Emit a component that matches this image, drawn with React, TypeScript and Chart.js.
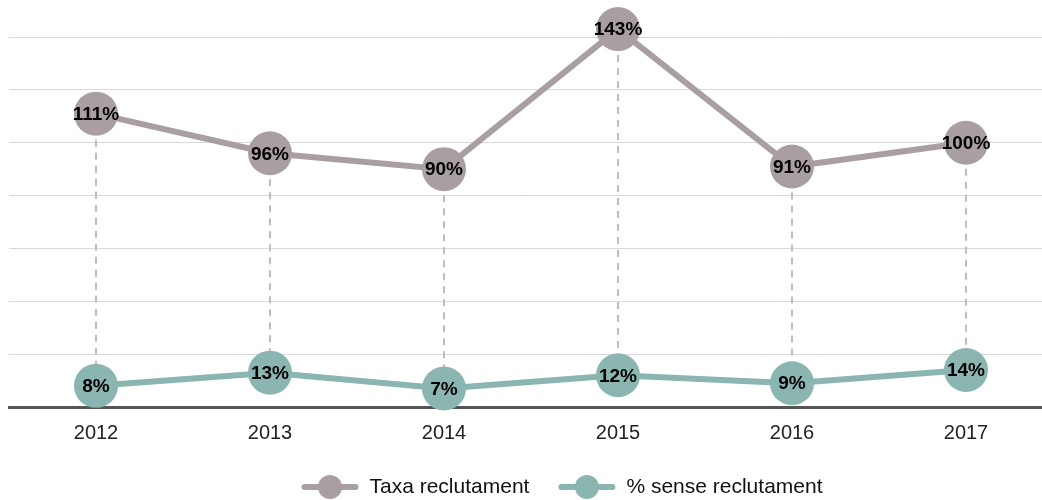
import React, { useEffect, useRef } from "react";
import { Chart, registerables } from "chart.js";

Chart.register(...registerables);

const years = ["2012", "2013", "2014", "2015", "2016", "2017"];
const taxaReclutament = [111, 96, 90, 143, 91, 100];
const senseReclutament = [8, 13, 7, 12, 9, 14];
const seriesLabels = ["Taxa reclutament", "% sense reclutament"];
const seriesColors = ["#a99fa3", "#8bb5b0"];

const FONT = "'Liberation Sans', Arial, Helvetica, sans-serif";

const dropLines = {
  id: "dropLines",
  beforeDatasetsDraw(chart: any) {
    const a = chart.getDatasetMeta(0).data;
    const b = chart.getDatasetMeta(1).data;
    const ctx = chart.ctx;
    ctx.save();
    ctx.strokeStyle = "#bdbdbd";
    ctx.lineWidth = 2;
    ctx.setLineDash([7, 6]);
    for (let i = 0; i < a.length; i++) {
      ctx.beginPath();
      ctx.moveTo(a[i].x, a[i].y);
      ctx.lineTo(b[i].x, b[i].y);
      ctx.stroke();
    }
    ctx.restore();
  },
};

const valueLabels = {
  id: "valueLabels",
  afterDatasetsDraw(chart: any) {
    const ctx = chart.ctx;
    ctx.save();
    ctx.font = `bold 19px ${FONT}`;
    ctx.fillStyle = "#000";
    ctx.textAlign = "center";
    ctx.textBaseline = "middle";
    chart.data.datasets.forEach((ds: any, di: number) => {
      const meta = chart.getDatasetMeta(di);
      meta.data.forEach((el: any, i: number) => {
        ctx.fillText(`${ds.data[i].y}%`, el.x, el.y + 1);
      });
    });
    ctx.restore();
  },
};

const lineLegend = {
  id: "lineLegend",
  afterDraw(chart: any) {
    const ctx = chart.ctx;
    ctx.save();
    ctx.font = `21px ${FONT}`;
    const lineW = 57;
    const gapText = 11;
    const gapItem = 29;
    const widths = seriesLabels.map((t) => ctx.measureText(t).width);
    const total = widths.reduce((s, w) => s + lineW + gapText + w, 0) + gapItem * (seriesLabels.length - 1);
    let x = 562 - total / 2;
    const y = 487;
    seriesLabels.forEach((label, i) => {
      ctx.strokeStyle = seriesColors[i];
      ctx.lineWidth = 6;
      ctx.lineCap = "round";
      ctx.beginPath();
      ctx.moveTo(x + 3, y);
      ctx.lineTo(x + lineW - 3, y);
      ctx.stroke();
      ctx.fillStyle = seriesColors[i];
      ctx.beginPath();
      ctx.arc(x + lineW / 2, y, 12, 0, Math.PI * 2);
      ctx.fill();
      ctx.fillStyle = "#111";
      ctx.textAlign = "left";
      ctx.textBaseline = "middle";
      ctx.fillText(label, x + lineW + gapText, y);
      x += lineW + gapText + widths[i] + gapItem;
    });
    ctx.restore();
  },
};

export default function App() {
  const ref = useRef<HTMLCanvasElement | null>(null);
  useEffect(() => {
    if (!ref.current) return;
    const mk = (vals: number[], i: number) => ({
      label: seriesLabels[i],
      data: vals.map((v, k) => ({ x: k, y: v })),
      borderColor: seriesColors[i],
      backgroundColor: seriesColors[i],
      borderWidth: 6,
      pointRadius: 22,
      pointHoverRadius: 22,
      pointBorderWidth: 0,
      pointBackgroundColor: seriesColors[i],
      clip: false as any,
      tension: 0,
    });
    const chart = new Chart(ref.current, {
      type: "line",
      data: {
        datasets: [mk(taxaReclutament, 0), mk(senseReclutament, 1)],
      },
      plugins: [dropLines, valueLabels, lineLegend],
      options: {
        animation: false,
        responsive: false,
        maintainAspectRatio: false,
        layout: { autoPadding: false, padding: { top: 37, left: 9, right: 0, bottom: 41 } },
        plugins: {
          legend: { display: false },
          tooltip: { enabled: false },
        },
        scales: {
          x: {
            type: "linear",
            min: -0.5,
            max: -0.5 + (1042 - 9) / 174,
            afterBuildTicks: (scale: any) => {
              scale.ticks = years.map((_, i) => ({ value: i }));
            },
            afterFit: (scale: any) => {
              scale.paddingLeft = 0;
              scale.paddingRight = 0;
            },
            ticks: {
              callback: (v: any) => years[v as number] ?? "",
              font: { family: FONT, size: 20 },
              color: "#222",
              padding: 14,
              maxRotation: 0,
              autoSkip: false,
            },
            grid: { display: false, drawTicks: false },
            border: { display: true, color: "#555555", width: 3 },
          },
          y: {
            min: 0,
            max: 140,
            afterFit: (scale: any) => {
              scale.width = 0;
            },
            ticks: { display: false, stepSize: 20 },
            grid: { color: "#d9d9d9", lineWidth: 1, drawTicks: false },
            border: { display: false },
          },
        },
      },
    });
    return () => chart.destroy();
  }, []);
  return (
    <div style={{ position: "fixed", left: 0, top: 0, width: 1042, height: 500, background: "#fff" }}>
      <canvas ref={ref} width={1042} height={500} style={{ width: 1042, height: 500, display: "block" }} />
    </div>
  );
}
